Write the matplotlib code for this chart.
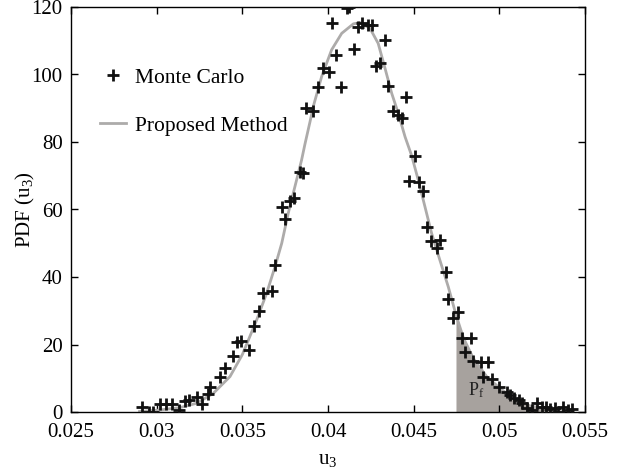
import matplotlib
matplotlib.use("Agg")
import matplotlib.pyplot as plt
import numpy as np

plt.rcParams["font.family"] = ["Liberation Serif", "DejaVu Serif"]
plt.rcParams["mathtext.default"] = "regular"

# Monte Carlo histogram estimate of the PDF of u3
mc_u = [0.02913, 0.02955, 0.0298, 0.03019, 0.03053, 0.03088, 0.0313, 0.03165, 0.0319, 0.03234,
        0.03262, 0.03301, 0.03313, 0.03367, 0.03396, 0.03445, 0.03467, 0.03495, 0.03541, 0.03568,
        0.03599, 0.03622, 0.03671, 0.03691, 0.0373, 0.03749, 0.03778, 0.03801, 0.03836, 0.03852,
        0.03873, 0.03915, 0.03943, 0.03972, 0.04007, 0.04025, 0.04047, 0.04074, 0.04109, 0.04124,
        0.04152, 0.04177, 0.04197, 0.04235, 0.04255, 0.0428, 0.04303, 0.04333, 0.04352, 0.04381,
        0.0441, 0.0443, 0.04455, 0.04474, 0.04508, 0.04531, 0.04554, 0.04579, 0.04599, 0.04634,
        0.04653, 0.04689, 0.04702, 0.04728, 0.0476, 0.0478, 0.048, 0.04833, 0.04848, 0.04891,
        0.04903, 0.04935, 0.04955, 0.05, 0.05043, 0.05062, 0.05085, 0.05116, 0.0513, 0.0516,
        0.05189, 0.05218, 0.05247, 0.05272, 0.05295, 0.05325, 0.05344, 0.05373, 0.05402, 0.05422]
mc_pdf = [1.5, 0.1, 0.1, 2.3, 2.4, 2.3, 0.6, 3.3, 3.6, 4.4,
          2.5, 5.2, 7.5, 10.5, 13.0, 16.5, 20.7, 21.0, 18.3, 25.5,
          30.0, 35.2, 35.9, 43.7, 60.8, 57.1, 62.5, 63.3, 71.2, 70.9,
          90.0, 89.2, 96.2, 101.8, 100.8, 115.3, 105.8, 96.2, 119.6, 120.1,
          107.5, 114.0, 115.2, 114.7, 114.7, 102.6, 103.5, 110.2, 96.6, 89.2,
          88.0, 87.0, 93.4, 68.4, 75.9, 68.0, 65.6, 54.8, 50.8, 48.5,
          51.0, 41.6, 33.4, 27.9, 29.5, 21.8, 17.9, 22.0, 15.1, 14.9,
          10.3, 14.9, 9.7, 7.3, 6.0, 5.0, 4.1, 3.6, 2.6, 1.1,
          0.6, 2.6, 1.4, 1.6, 0.8, 1.1, 0.0, 1.4, 0.6, 0.8]

# PDF from the proposed method
curve_u = [0.0290, 0.0302, 0.03136, 0.03234, 0.0333, 0.03428, 0.0350, 0.03584, 0.03642, 0.03691,
           0.0373, 0.03768, 0.03807, 0.03846, 0.03866, 0.03895, 0.03914, 0.03963, 0.04021, 0.0408,
           0.04148, 0.04187, 0.04245, 0.04293, 0.04333, 0.04372, 0.0441, 0.0445, 0.04488, 0.04527,
           0.04566, 0.04605, 0.04653, 0.04702, 0.04747, 0.0479, 0.04848, 0.04926, 0.05004, 0.05081,
           0.05179, 0.05295, 0.05393, 0.05424]
curve_pdf = [0.15, 0.6, 1.3, 2.6, 5.5, 10.5, 17.0, 27.3, 35.2, 43.1,
             50.0, 58.9, 66.8, 74.7, 79.5, 86.0, 90.5, 99.4, 107.3, 112.2,
             115.0, 115.4, 113.7, 109.2, 101.8, 94.4, 88.5, 81.5, 76.0, 68.7,
             60.8, 52.9, 45.0, 37.1, 28.8, 22.0, 15.9, 10.5, 7.0, 4.1,
             1.8, 0.8, 0.4, 0.3]

# failure threshold: area beyond it is the failure probability
pf_start = 0.04747

x_ticks = [0.025, 0.03, 0.035, 0.04, 0.045, 0.05, 0.055]
x_tick_labels = ["0.025", "0.03", "0.035", "0.04", "0.045", "0.05", "0.055"]
y_ticks = [0, 20, 40, 60, 80, 100, 120]

fig = plt.figure(figsize=(6.26, 4.73), dpi=100)
ax = fig.add_axes([71 / 626, 61 / 473, 514 / 626, 405 / 473])

cu = np.array(curve_u)
cp = np.array(curve_pdf)
mask = cu >= pf_start
ax.fill_between(cu[mask], 0, cp[mask], color="#a7a29e", linewidth=0, zorder=1)

ax.plot(curve_u, curve_pdf, color="#adabaa", linewidth=2.0, zorder=2,
        solid_joinstyle="round", label="Proposed Method")
ax.plot(mc_u, mc_pdf, linestyle="none", marker="+", color="#111111",
        markersize=9, markeredgewidth=2.0, zorder=3, label="Monte Carlo")

ax.text(0.04866, 6.5, "P$_f$", fontsize=13, ha="center", va="center", color="#222222")

ax.set_xlim(0.025, 0.055)
ax.set_ylim(0, 120)
ax.set_xticks(x_ticks)
ax.set_xticklabels(x_tick_labels)
ax.set_yticks(y_ticks)
ax.tick_params(direction="in", top=True, right=True, labelsize=15, length=5, width=1)
ax.tick_params(axis="y", pad=6)
ax.tick_params(axis="x", pad=8)
for s in ax.spines.values():
    s.set_linewidth(1.0)

ax.set_xlabel("u$_3$", fontsize=15, labelpad=6)
ax.set_ylabel("PDF (u$_3$)", fontsize=15)
ax.yaxis.set_label_coords(-0.066, 0.5)

handles, labels = ax.get_legend_handles_labels()
ax.legend([handles[1], handles[0]], [labels[1], labels[0]], loc="upper left",
          bbox_to_anchor=(0.056, 0.85), frameon=False, fontsize=15.5,
          borderpad=0, borderaxespad=0, labelspacing=1.3, handlelength=1.2,
          handletextpad=0.45)

fig.savefig("out.png", dpi=100)
